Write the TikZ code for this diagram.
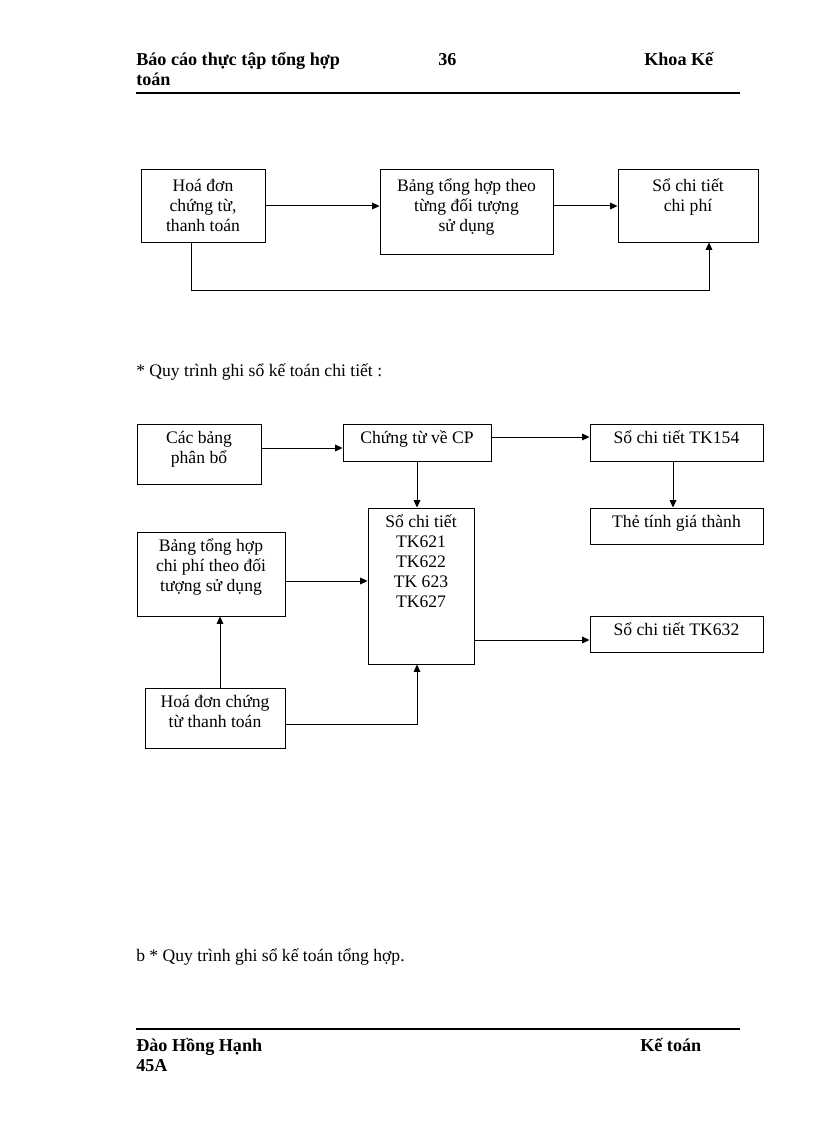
\documentclass[tikz,border=0pt]{standalone}
\usepackage{fontspec}
\setmainfont{Liberation Serif}
\usetikzlibrary{arrows.meta,fit}
\begin{document}
\begin{tikzpicture}[x=0.75pt,y=-0.75pt,
  box/.style={draw, line width=0.75pt, inner sep=0pt},
  txt/.style={align=center, inner sep=0pt, anchor=north, font=\fontsize{13.2pt}{15pt}\selectfont},
  body/.style={inner sep=0pt, anchor=base west, font=\fontsize{13.2pt}{15pt}\selectfont},
  head/.style={inner sep=0pt, anchor=base west, font=\fontsize{13.6pt}{15pt}\selectfont\bfseries},
  arr/.style={-{Triangle[length=5.5pt,width=5pt]}, line width=0.75pt},
  rulestyle/.style={line width=1.6pt}]
\useasboundingbox (0,0) rectangle (816,1123);
\newcommand{\fl}{\rule{0pt}{12pt}}
% header
\node[head] (h1) at (136,66) {Báo cáo thực tập tổng hợp};
\node[head] (h2) at (136,86) {toán};
\node[head] (h3) at (438,66) {36};
\node[head] (h4) at (644,66) {Khoa Kế};
\coordinate (r1a) at (136,93);
\coordinate (r1b) at (740,93);
\draw[rulestyle] (r1a) -- (r1b);

% diagram 1
\node[box, fit={(141,170) (265,242)}] (b1) {};
\node[box, fit={(380,170) (553,254)}] (b2) {};
\node[box, fit={(618,170) (758,242)}] (b3) {};
\node[txt] (tb1) at ([yshift=-4.5pt]b1.north) {\fl Hoá đơn\\chứng từ,\\thanh toán};
\node[txt] (tb2) at ([yshift=-4.5pt]b2.north) {\fl Bảng tổng hợp theo\\từng đối tượng\\sử dụng};
\node[txt] (tb3) at ([yshift=-4.5pt]b3.north) {\fl Sổ chi tiết\\chi phí};
\draw[arr] (b1.east) -- (b2.west |- b1.east);
\draw[arr] (b2.east |- b3.west) -- (b3.west);
\coordinate (l1) at (191,290);
\coordinate (l2) at (709,290);
\draw[arr] (b1.south -| l1) -- (l1) -- (l2) -- (b3.south -| l2);

\node[body] (s1) at (136,376) {* Quy trình ghi sổ kế toán chi tiết :};

% diagram 2
\node[box, fit={(137,424) (261,484)}] (c1) {};
\node[box, fit={(343,424) (491,461)}] (c2) {};
\node[box, fit={(590,424) (763,461)}] (c3) {};
\node[box, fit={(590,508) (763,544)}] (c4) {};
\node[box, fit={(368,508) (474,664)}] (c5) {};
\node[box, fit={(137,532) (285,616)}] (c6) {};
\node[box, fit={(590,616) (763,652)}] (c7) {};
\node[box, fit={(145,688) (285,748)}] (c8) {};
\node[txt] (tc1) at ([yshift=-3pt]c1.north) {\fl Các bảng\\phân bổ};
\node[txt] (tc2) at ([yshift=-3pt]c2.north) {\fl Chứng từ về CP};
\node[txt] (tc3) at ([yshift=-3pt]c3.north) {\fl Sổ chi tiết TK154};
\node[txt] (tc4) at ([yshift=-3pt]c4.north) {\fl Thẻ tính giá thành};
\node[txt] (tc5) at ([yshift=-3pt]c5.north) {\fl Sổ chi tiết\\TK621\\TK622\\TK 623\\TK627};
\node[txt] (tc6) at ([yshift=-3pt]c6.north) {\fl Bảng tổng hợp\\chi phí theo đối\\tượng sử dụng};
\node[txt] (tc7) at ([yshift=-3pt]c7.north) {\fl Sổ chi tiết TK632};
\node[txt] (tc8) at ([yshift=-3pt]c8.north) {\fl Hoá đơn chứng\\từ thanh toán};

\coordinate (k1) at (0,448);
\coordinate (k2) at (0,437);
\coordinate (k4) at (673,0);
\coordinate (k5) at (0,581);
\coordinate (k6) at (0,640);
\coordinate (k7) at (220,0);
\coordinate (k8) at (417,724);
\draw[arr] (c1.east |- k1) -- (c2.west |- k1);
\draw[arr] (c2.east |- k2) -- (c3.west |- k2);
\draw[arr] (c2.south -| k8) -- (c5.north -| k8);
\draw[arr] (c3.south -| k4) -- (c4.north -| k4);
\draw[arr] (c6.east |- k5) -- (c5.west |- k5);
\draw[arr] (c5.east |- k6) -- (c7.west |- k6);
\draw[arr] (c8.north -| k7) -- (c6.south -| k7);
\draw[arr] (c8.east |- k8) -- (k8) -- (c5.south -| k8);

\node[body] (s2) at (136,961) {b * Quy trình ghi sổ kế toán tổng hợp.};

% footer
\coordinate (r2a) at (136,1029);
\coordinate (r2b) at (740,1029);
\draw[rulestyle] (r2a) -- (r2b);
\node[head] (f1) at (136,1051) {Đào Hồng Hạnh};
\node[head] (f2) at (136,1071) {45A};
\node[head] (f3) at (640,1051) {Kế toán};
\end{tikzpicture}
\end{document}
